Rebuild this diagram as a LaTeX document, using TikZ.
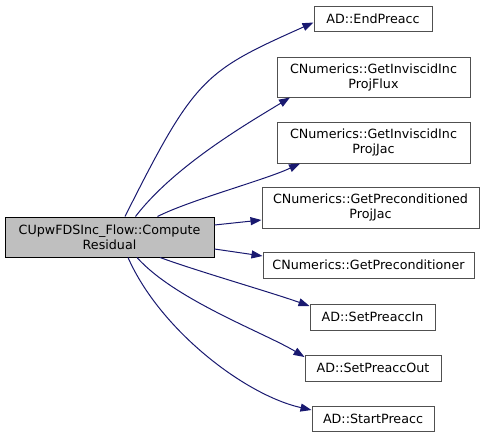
\documentclass[tikz,border=0pt]{standalone}
\usepackage{fontspec}
\setmainfont{DejaVu Sans}
\usetikzlibrary{arrows.meta}
\definecolor{edgeblue}{HTML}{191970}
\definecolor{srcfill}{HTML}{BFBFBF}
\definecolor{boxline}{HTML}{505050}
\begin{document}
\begin{tikzpicture}[x=1pt,y=-1pt,
  box/.style={draw=boxline,fill=white,line width=1pt,inner sep=0pt,align=center,
    font=\fontsize{12.7}{15}\selectfont},
  srcbox/.style={box,draw=black,fill=srcfill},
  edge/.style={draw=edgeblue,line width=1pt,-{Triangle[length=11pt,width=8pt]}}]
\useasboundingbox (0,0) rectangle (489,437);
\node[srcbox,minimum width=209pt,minimum height=40pt] (src) at (109.5,237) {CUpwFDSInc\_Flow::Compute\\Residual};
\node[box,minimum width=118pt,minimum height=25pt] (e1) at (373,18.5) {AD::EndPreacc};
\node[box,minimum width=193pt,minimum height=40pt] (e2) at (373.5,77) {CNumerics::GetInviscidInc\\ProjFlux};
\node[box,minimum width=193pt,minimum height=41pt] (e3) at (373.5,142.5) {CNumerics::GetInviscidInc\\ProjJac};
\node[box,minimum width=217pt,minimum height=41pt] (e4) at (370.5,207.5) {CNumerics::GetPreconditioned\\ProjJac};
\node[box,minimum width=211pt,minimum height=26pt] (e5) at (368.5,265) {CNumerics::GetPreconditioner};
\node[box,minimum width=125pt,minimum height=26pt] (e6) at (372.5,317) {AD::SetPreaccIn};
\node[box,minimum width=136pt,minimum height=26pt] (e7) at (373,368) {AD::SetPreaccOut};
\node[box,minimum width=122pt,minimum height=25pt] (e8) at (373,418.5) {AD::StartPreacc};
\draw[edge] ([xshift=15.5pt]src.north) .. controls (195,77) and (204,71.5) .. ([yshift=-4pt]e1.west);
\draw[edge] ([xshift=26pt]src.north) .. controls (175,165) and (250,122) .. ([xshift=-83.5pt]e2.south);
\draw[edge] ([xshift=48pt]src.north) .. controls (190,200) and (265,180) .. ([xshift=-73.5pt]e3.south);
\draw[edge] ([yshift=12pt]src.east) -- ([yshift=-12.5pt]e4.west);
\draw[edge] ([yshift=-12pt]src.east) -- ([yshift=9pt]e5.west);
\draw[edge] ([xshift=50.5pt]src.south) .. controls (200,272) and (270,292) .. ([yshift=11pt]e6.west);
\draw[edge] ([xshift=27.5pt]src.south) .. controls (175,300) and (265,333) .. ([yshift=11pt]e7.west);
\draw[edge] ([xshift=18.5pt]src.south) .. controls (160,330) and (245,395) .. ([yshift=8.5pt]e8.west);
\end{tikzpicture}
\end{document}
